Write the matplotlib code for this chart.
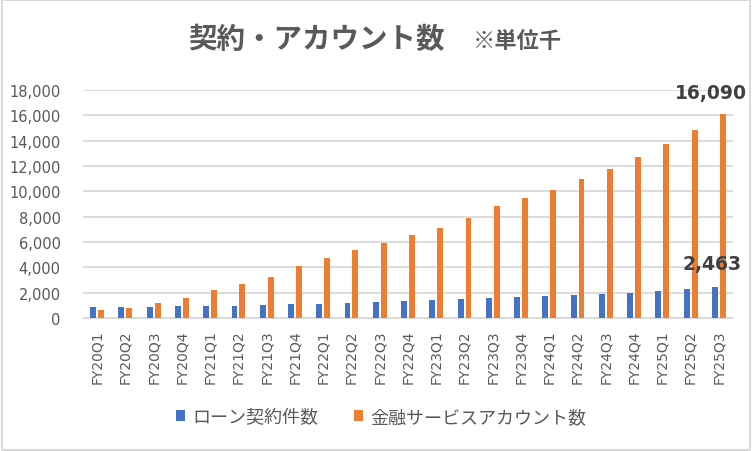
import matplotlib
matplotlib.use("Agg")
import matplotlib.pyplot as plt
from matplotlib.patches import Rectangle
import numpy as np

plt.rcParams['font.family'] = ['Noto Sans CJK JP', 'DejaVu Sans']

quarters = ["FY20Q1", "FY20Q2", "FY20Q3", "FY20Q4",
            "FY21Q1", "FY21Q2", "FY21Q3", "FY21Q4",
            "FY22Q1", "FY22Q2", "FY22Q3", "FY22Q4",
            "FY23Q1", "FY23Q2", "FY23Q3", "FY23Q4",
            "FY24Q1", "FY24Q2", "FY24Q3", "FY24Q4",
            "FY25Q1", "FY25Q2", "FY25Q3"]
loans = [860, 860, 860, 940, 940, 940, 1020, 1100, 1100, 1180, 1250, 1320,
         1390, 1470, 1550, 1630, 1710, 1790, 1870, 1950, 2100, 2260, 2463]
accounts = [620, 760, 1180, 1570, 2200, 2680, 3230, 4100, 4730, 5360, 5910, 6540,
            7080, 7870, 8810, 9440, 10080, 10950, 11740, 12690, 13710, 14820, 16090]
series_names = ["ローン契約件数", "金融サービスアカウント数"]

x = np.arange(len(quarters))
w = 0.21
off = 0.14

fig = plt.figure(figsize=(7.52, 4.52), dpi=100)
ax = fig.add_axes([83 / 752, 133 / 452, 650 / 752, 228 / 452])

b1 = ax.bar(x - off, loans, w, color="#4472C4", label=series_names[0], zorder=3)
b2 = ax.bar(x + off, accounts, w, color="#ED7D31", label=series_names[1], zorder=3)

ax.set_xlim(-0.5, len(quarters) - 0.5)
ax.set_ylim(0, 18000)
ax.set_yticks(np.arange(0, 18001, 2000))
ax.set_yticklabels([f"{v:,}" for v in range(0, 18001, 2000)], fontsize=10.5, color="#595959",
                   family=['DejaVu Sans'])
ax.set_xticks(x)
ax.set_xticklabels(quarters, rotation=90, fontsize=10, color="#595959", family=['DejaVu Sans'])
ax.tick_params(length=0, pad=8)
ax.tick_params(axis='y', pad=16)
ax.grid(axis='y', color="#D9D9D9", linewidth=1.3, zorder=0)
for s in ["top", "right", "left"]:
    ax.spines[s].set_visible(False)
ax.spines["bottom"].set_color("#D9D9D9")
ax.spines["bottom"].set_linewidth(1.3)

ax.annotate(f"{accounts[-1]:,}", (x[-1], accounts[-1]), xytext=(-6, 9), textcoords="offset points",
            ha="center", va="bottom", fontsize=13.5, fontweight="bold", color="#404040", family=['DejaVu Sans'])
ax.annotate(f"{loans[-1]:,}", (x[-1] - off, loans[-1]), xytext=(-2, 10), textcoords="offset points",
            ha="center", va="bottom", fontsize=13.5, fontweight="bold", color="#404040", family=['DejaVu Sans'])

fig.text(316 / 752, 1 - 40 / 452, "契約・アカウント数", ha="center", va="center",
         fontsize=20.5, fontweight="bold", color="#595959")
fig.text(517 / 752, 1 - 41 / 452, "※単位千", ha="center", va="center",
         fontsize=16, fontweight="bold", color="#595959")

fig.legend(handles=[b1, b2], loc="center", bbox_to_anchor=(381 / 752, 1 - 418 / 452), ncol=2,
           frameon=False, fontsize=13, handlelength=0.5, handleheight=0.5, handletextpad=0.4,
           columnspacing=2.0, labelcolor="#595959")

fig.patches.append(Rectangle((0.002, 0.002), 0.996, 0.996, transform=fig.transFigure,
                             fill=False, edgecolor="#D9D9D9", linewidth=1.5))

fig.savefig("out.png", dpi=100)
